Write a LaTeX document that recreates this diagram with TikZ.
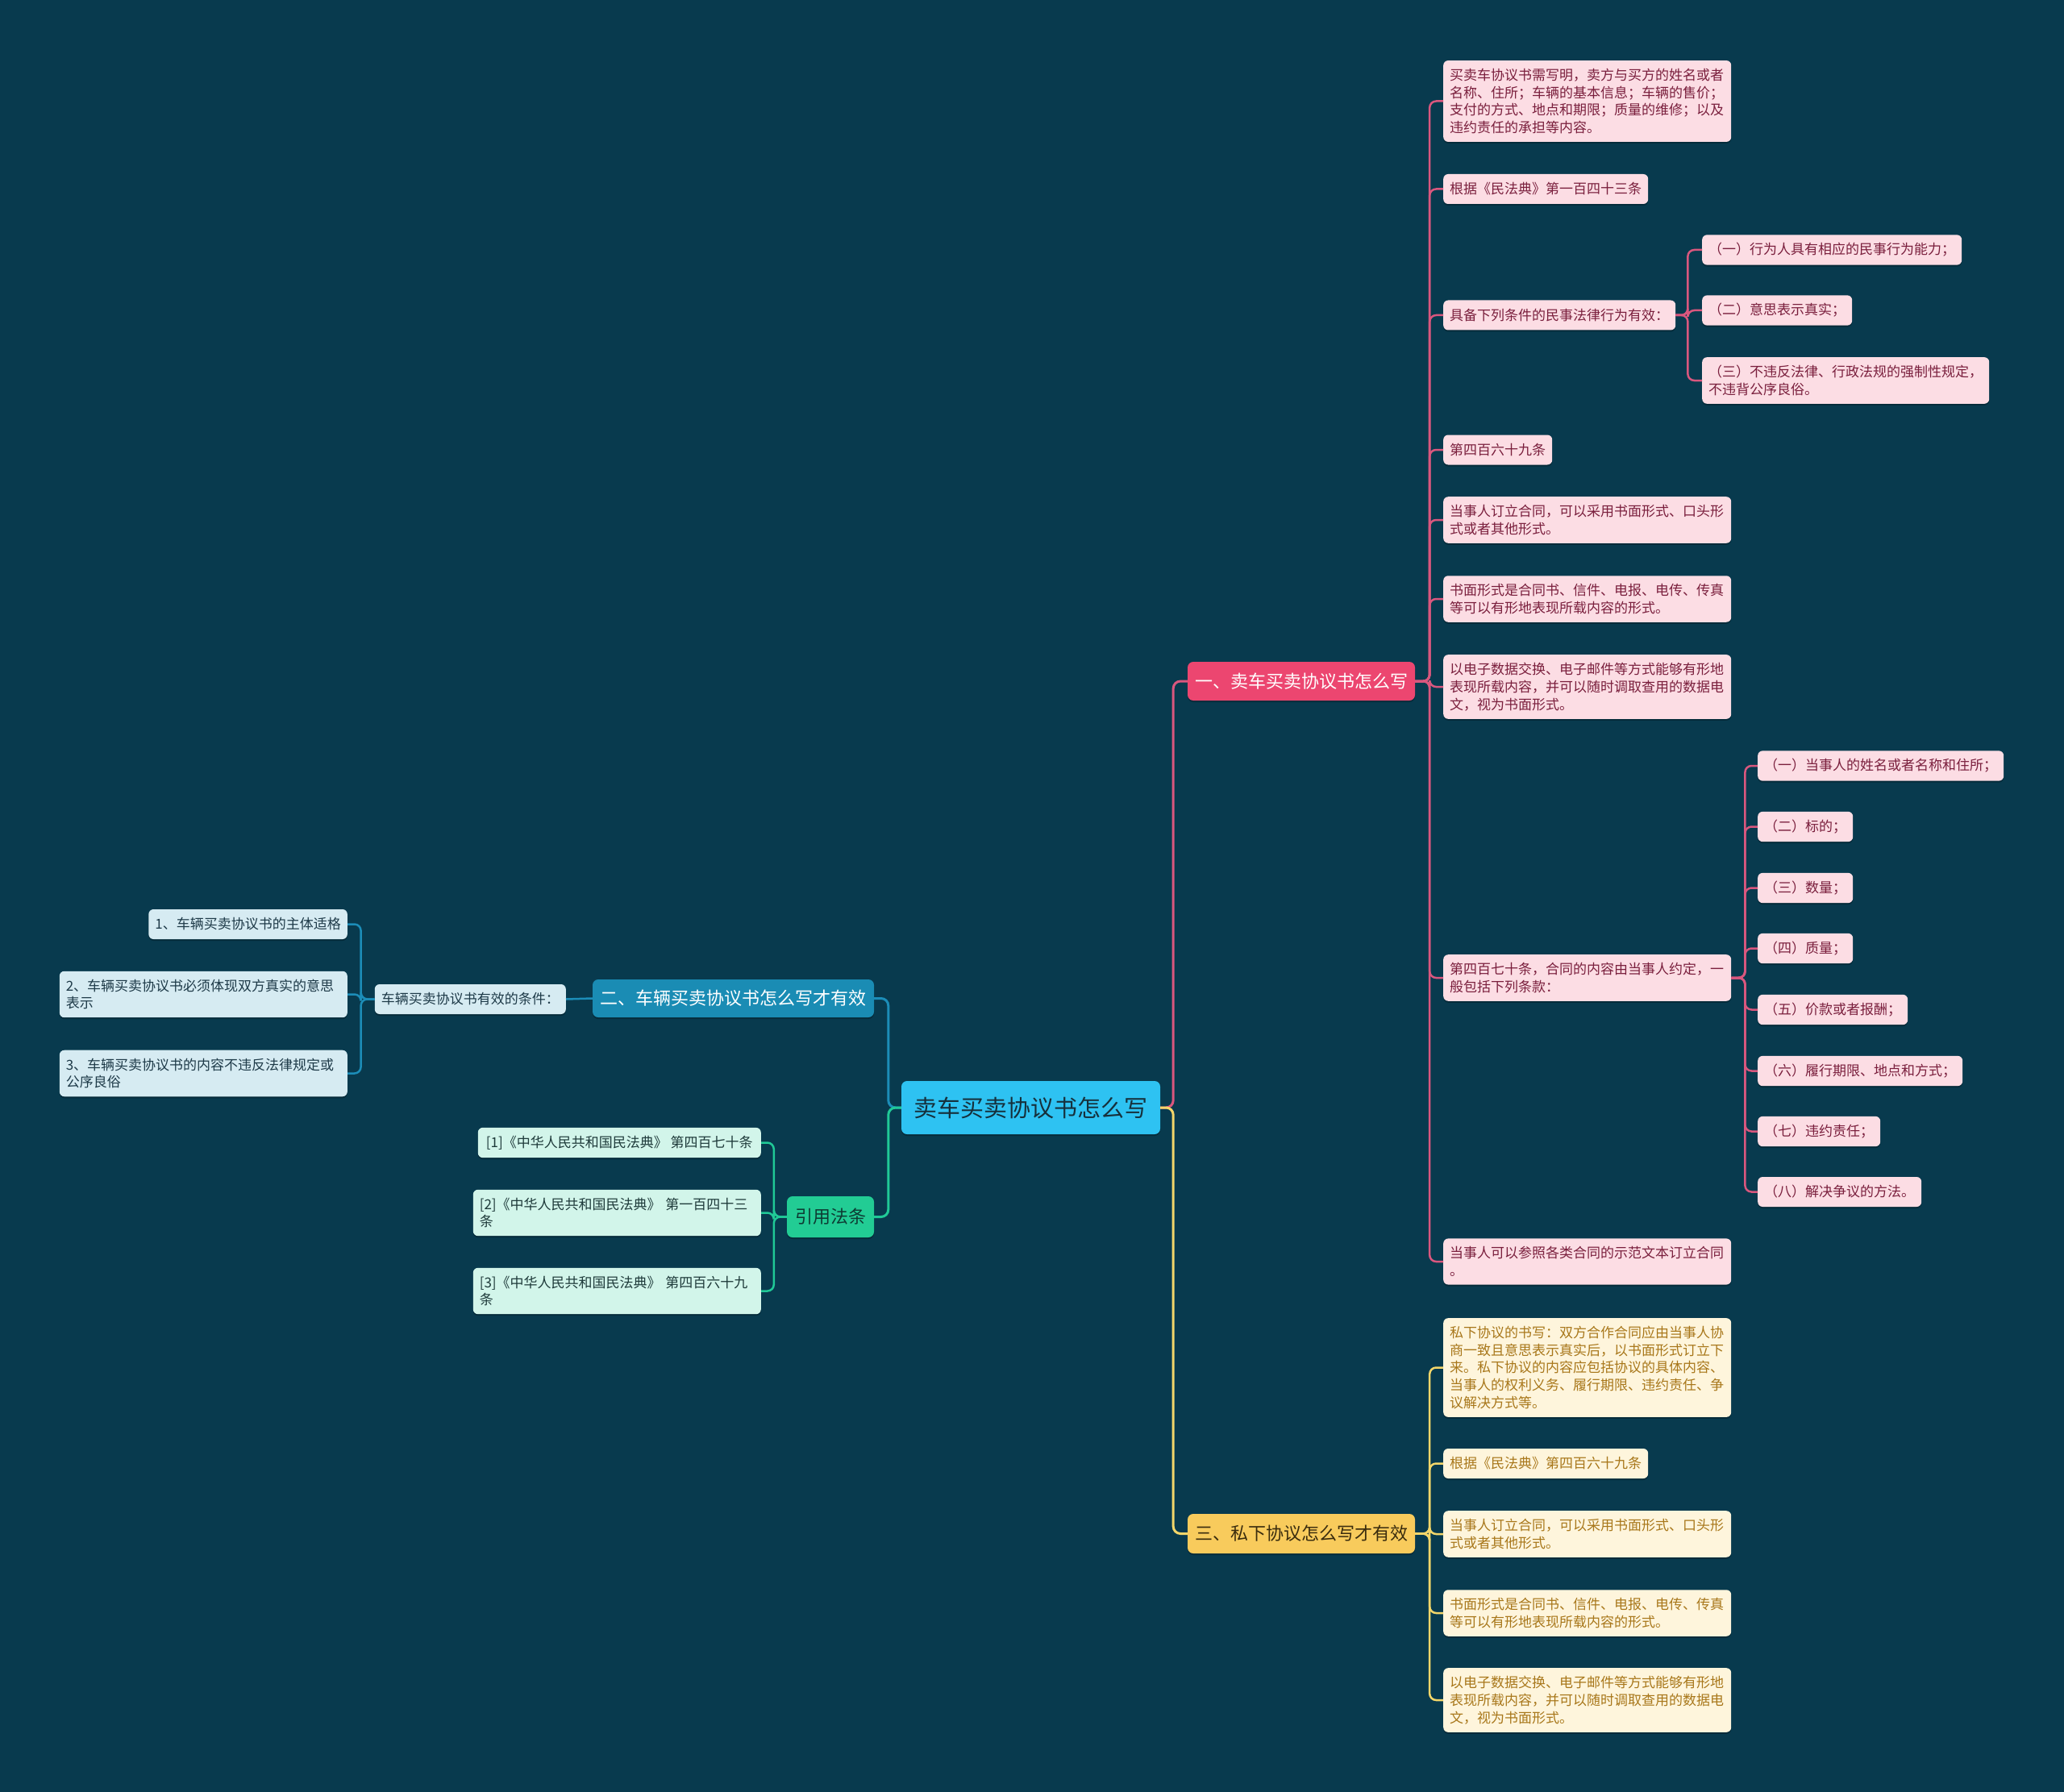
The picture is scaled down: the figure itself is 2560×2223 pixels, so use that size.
\documentclass[tikz,border=0pt]{standalone}
\usepackage{fontspec}
\newfontfamily\cjk{Noto Sans CJK SC}
\usetikzlibrary{shadows}
\definecolor{bg}{HTML}{083A4E}
\definecolor{rootfill}{HTML}{2EC2F2}
\definecolor{roottext}{HTML}{16303C}
\definecolor{bonefill}{HTML}{EC4670}
\definecolor{btwofill}{HTML}{1A8CB4}
\definecolor{bthreefill}{HTML}{F8CB5C}
\definecolor{bthreetext}{HTML}{3A2C0E}
\definecolor{citefill}{HTML}{22CC94}
\definecolor{citetext}{HTML}{0E3B33}
\definecolor{pinkfill}{HTML}{FCDDE4}
\definecolor{pinktext}{HTML}{7A1F3D}
\definecolor{pinkline}{HTML}{D9577E}
\definecolor{yelfill}{HTML}{FEF5DC}
\definecolor{yeltext}{HTML}{A8771A}
\definecolor{yelline}{HTML}{F3D66A}
\definecolor{bluefill}{HTML}{D6EBF2}
\definecolor{bluetext}{HTML}{1E3A48}
\definecolor{blueline}{HTML}{1C8DB8}
\definecolor{mintfill}{HTML}{D2F5EA}
\definecolor{minttext}{HTML}{1E3A3A}
\definecolor{mintline}{HTML}{20C997}
\begin{document}
\begin{tikzpicture}[x=1pt,y=-1pt,
  sbox/.style={rounded corners=6pt, font={\cjk\fontsize{17}{21.7}\selectfont}, inner xsep=8pt, inner ysep=10pt, align=left, minimum height=37pt,
    drop shadow={shadow xshift=0pt, shadow yshift=-2pt, fill=black, opacity=0.25}},
  wide/.style={text width=341pt},
  pk/.style={sbox, fill=pinkfill, text=pinktext},
  yl/.style={sbox, fill=yelfill, text=yeltext},
  bl/.style={sbox, fill=bluefill, text=bluetext},
  mt/.style={sbox, fill=mintfill, text=minttext},
  mainbox/.style={rounded corners=7pt, font={\cjk\fontsize{22}{26}\selectfont}, align=center, inner sep=0pt,
    drop shadow={shadow xshift=0pt, shadow yshift=-2pt, fill=black, opacity=0.25}},
  conn/.style={line width=2.5pt, rounded corners=8pt},
  mconn/.style={line width=3pt, rounded corners=9pt}
]
\fill[bg] (0,0) rectangle (2560,2223);
\useasboundingbox (0,0) rectangle (2560,2223);

% main nodes
\node[mainbox, fill=rootfill, text=roottext, minimum width=321pt, minimum height=66pt, font={\cjk\fontsize{29}{34}\selectfont}] (root) at (1278.5,1374) {卖车买卖协议书怎么写};
\node[mainbox, fill=bonefill, text=white, minimum width=282pt, minimum height=48pt] (b1) at (1614,845) {一、卖车买卖协议书怎么写};
\node[mainbox, fill=bthreefill, text=bthreetext, minimum width=282pt, minimum height=49pt] (b3) at (1614,1902.5) {三、私下协议怎么写才有效};
\node[mainbox, fill=btwofill, text=white, minimum width=349pt, minimum height=47pt] (b2) at (909.5,1238.5) {二、车辆买卖协议书怎么写才有效};
\node[mainbox, fill=citefill, text=citetext, minimum width=108pt, minimum height=51pt] (cite) at (1030,1509.5) {引用法条};

% branch 1 children
\node[pk, wide, anchor=west] (c1) at (1790,125.5) {买卖车协议书需写明，卖方与买方的姓名或者\\名称、住所；车辆的基本信息；车辆的售价；\\支付的方式、地点和期限；质量的维修；以及\\违约责任的承担等内容。};
\node[pk, anchor=west] (c2) at (1790,234.5) {根据《民法典》第一百四十三条};
\node[pk, anchor=west] (c3) at (1790,391) {具备下列条件的民事法律行为有效：};
\node[pk, anchor=west] (c3a) at (2111,310) {（一）行为人具有相应的民事行为能力；};
\node[pk, anchor=west] (c3b) at (2111,385) {（二）意思表示真实；};
\node[pk, anchor=west] (c3c) at (2111,472) {（三）不违反法律、行政法规的强制性规定，\\不违背公序良俗。};
\node[pk, anchor=west] (c4) at (1790,558) {第四百六十九条};
\node[pk, wide, anchor=west] (c5) at (1790,645) {当事人订立合同，可以采用书面形式、口头形\\式或者其他形式。};
\node[pk, wide, anchor=west] (c6) at (1790,743) {书面形式是合同书、信件、电报、电传、传真\\等可以有形地表现所载内容的形式。};
\node[pk, wide, anchor=west] (c7) at (1790,852) {以电子数据交换、电子邮件等方式能够有形地\\表现所载内容，并可以随时调取查用的数据电\\文，视为书面形式。};
\node[pk, wide, anchor=west] (c8) at (1790,1213) {第四百七十条，合同的内容由当事人约定，一\\般包括下列条款：};
\node[pk, anchor=west] (s1) at (2180,950) {（一）当事人的姓名或者名称和住所；};
\node[pk, anchor=west] (s2) at (2180,1025.5) {（二）标的；};
\node[pk, anchor=west] (s3) at (2180,1101.5) {（三）数量；};
\node[pk, anchor=west] (s4) at (2180,1176.5) {（四）质量；};
\node[pk, anchor=west] (s5) at (2180,1252.5) {（五）价款或者报酬；};
\node[pk, anchor=west] (s6) at (2180,1328.5) {（六）履行期限、地点和方式；};
\node[pk, anchor=west] (s7) at (2180,1403.5) {（七）违约责任；};
\node[pk, anchor=west] (s8) at (2180,1478.5) {（八）解决争议的方法。};
\node[pk, wide, anchor=west] (c9) at (1790,1565) {当事人可以参照各类合同的示范文本订立合同\\。};

% branch 3 children
\node[yl, wide, anchor=west] (d1) at (1790,1696.5) {私下协议的书写：双方合作合同应由当事人协\\商一致且意思表示真实后，以书面形式订立下\\来。私下协议的内容应包括协议的具体内容、\\当事人的权利义务、履行期限、违约责任、争\\议解决方式等。};
\node[yl, anchor=west] (d2) at (1790,1815.5) {根据《民法典》第四百六十九条};
\node[yl, wide, anchor=west] (d3) at (1790,1903) {当事人订立合同，可以采用书面形式、口头形\\式或者其他形式。};
\node[yl, wide, anchor=west] (d4) at (1790,2001) {书面形式是合同书、信件、电报、电传、传真\\等可以有形地表现所载内容的形式。};
\node[yl, wide, anchor=west] (d5) at (1790,2109) {以电子数据交换、电子邮件等方式能够有形地\\表现所载内容，并可以随时调取查用的数据电\\文，视为书面形式。};

% branch 2 children
\node[bl, anchor=east] (cond) at (702,1239.5) {车辆买卖协议书有效的条件：};
\node[bl, anchor=east] (k1) at (431,1146.5) {1、车辆买卖协议书的主体适格};
\node[bl, wide, anchor=east] (k2) at (431,1233.5) {2、车辆买卖协议书必须体现双方真实的意思\\表示};
\node[bl, wide, anchor=east] (k3) at (431,1331.5) {3、车辆买卖协议书的内容不违反法律规定或\\公序良俗};

% citations
\node[mt, anchor=east, minimum width=351pt, align=center] (r1) at (944,1417.5) {[1]《中华人民共和国民法典》 第四百七十条};
\node[mt, wide, anchor=east] (r2) at (944,1504.5) {[2]《中华人民共和国民法典》 第一百四十三\\条};
\node[mt, wide, anchor=east] (r3) at (944,1601.5) {[3]《中华人民共和国民法典》 第四百六十九\\条};

% connectors from root
\draw[mconn, pinkline] (root.east) -- ++(16,0) |- (b1.west);
\draw[mconn, yelline] (root.east) -- ++(16,0) |- (b3.west);
\draw[mconn, blueline] (root.west) -- ++(-16,0) |- (b2.east);
\draw[mconn, mintline] (root.west) -- ++(-16,0) |- (cite.east);

% branch 1
\foreach \n in {c1,c2,c3,c4,c5,c6,c7,c8,c9}
  \draw[conn, pinkline] (b1.east) -- ++(18,0) |- (\n.west);
\foreach \n in {c3a,c3b,c3c}
  \draw[conn, pinkline] (c3.east) -- ++(15,0) |- (\n.west);
\foreach \n in {s1,s2,s3,s4,s5,s6,s7,s8}
  \draw[conn, pinkline] (c8.east) -- ++(17,0) |- (\n.west);

% branch 3
\foreach \n in {d1,d2,d3,d4,d5}
  \draw[conn, yelline] (b3.east) -- ++(18,0) |- (\n.west);

% branch 2
\draw[conn, blueline] (b2.west) -- (cond.east);
\foreach \n in {k1,k2,k3}
  \draw[conn, blueline] (cond.west) -- ++(-17,0) |- (\n.east);

% citations
\foreach \n in {r1,r2,r3}
  \draw[conn, mintline] (cite.west) -- ++(-16,0) |- (\n.east);
\end{tikzpicture}
\end{document}
